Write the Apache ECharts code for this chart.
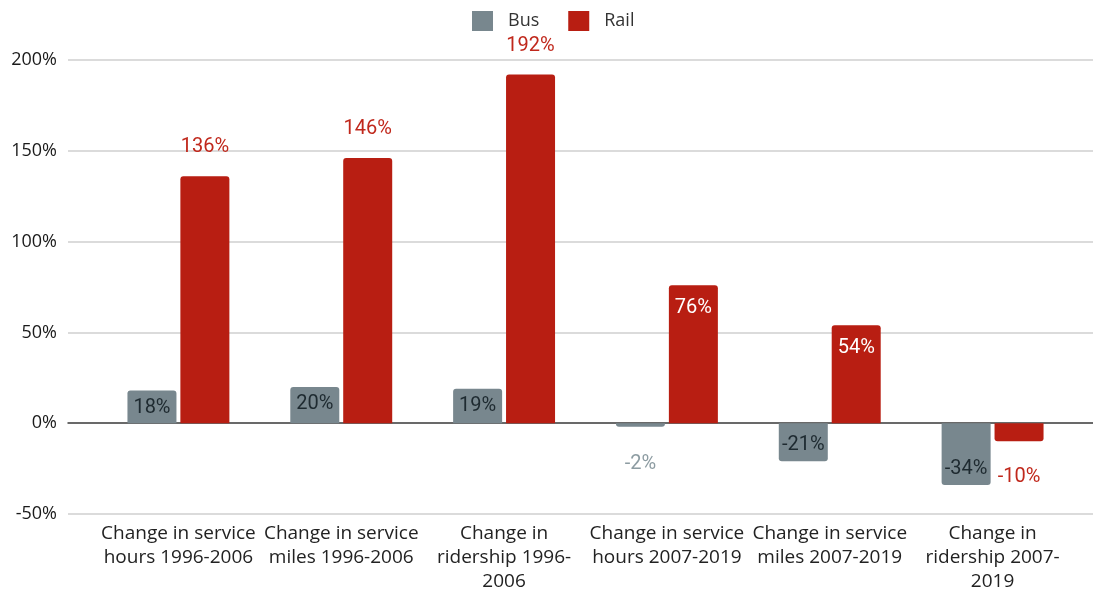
<!DOCTYPE html>
<html>
<head>
<meta charset="utf-8">
<script src="https://cdn.jsdelivr.net/npm/echarts@6/dist/echarts.min.js"></script>
<style>
html,body{margin:0;padding:0;background:#fff;overflow:hidden;}
#chart{width:1093px;height:592px;}
</style>
</head>
<body>
<div id="chart"></div>
<script>
const categories = [
  "Change in service\nhours 1996-2006",
  "Change in service\nmiles 1996-2006",
  "Change in\nridership 1996-\n2006",
  "Change in service\nhours 2007-2019",
  "Change in service\nmiles 2007-2019",
  "Change in\nridership 2007-\n2019"
];
const busValues = [18, 20, 19, -2, -21, -34];
const railValues = [136, 146, 192, 76, 54, -10];
const yTicks = { min: -50, max: 200, interval: 50 };

const BUS = '#78878e';
const RAIL = '#b81e12';

function busItem(v) {
  let label;
  if (Math.abs(v) < 8) {
    label = { position: 'bottom', distance: 27, color: '#8d9ca2' };
  } else if (v >= 0) {
    label = { position: 'insideTop', distance: 7, color: '#1e2a30' };
  } else {
    label = { position: 'insideBottom', distance: 6, color: '#1e2a30' };
  }
  return {
    value: v,
    label: label,
    itemStyle: { borderRadius: v >= 0 ? [3, 3, 0, 0] : [0, 0, 3, 3] }
  };
}
function railItem(v) {
  let label;
  if (v > 100) {
    label = { position: 'top', distance: 19, color: '#c0281c' };
  } else if (v >= 0) {
    label = { position: 'insideTop', distance: 13, color: '#ffffff' };
  } else {
    label = { position: 'bottom', distance: 26, color: '#c0281c' };
  }
  return {
    value: v,
    label: label,
    itemStyle: { borderRadius: v >= 0 ? [3, 3, 0, 0] : [0, 0, 3, 3] }
  };
}

const chart = echarts.init(document.getElementById('chart'));
chart.setOption({
  animation: false,
  backgroundColor: '#ffffff',
  legend: {
    top: 6,
    left: 467,
    icon: 'rect',
    itemWidth: 21,
    itemHeight: 20,
    itemGap: 29,
    textStyle: { fontFamily: 'Open Sans', fontSize: 18, color: '#333', padding: [0, 0, 0, 10] },
    data: ['Bus', 'Rail']
  },
  grid: [
    { left: 68, right: 0, top: 60, bottom: 78, outerBoundsMode: 'none', containLabel: false },
    { left: 97, right: 19, top: 60, bottom: 78, outerBoundsMode: 'none', containLabel: false }
  ],
  xAxis: [
    {
      gridIndex: 0, type: 'category', data: [''],
      axisLine: { show: true, onZero: true, lineStyle: { color: '#444', width: 1.5 } },
      axisTick: { show: false }, axisLabel: { show: false }
    },
    {
      gridIndex: 1, type: 'category', data: categories,
      axisLine: { show: false }, axisTick: { show: false },
      axisLabel: {
        interval: 0, margin: 8,
        fontFamily: 'Open Sans', fontSize: 19, color: '#222', lineHeight: 24
      }
    }
  ],
  yAxis: [
    {
      gridIndex: 0, type: 'value',
      min: yTicks.min, max: yTicks.max, interval: yTicks.interval,
      axisLine: { show: false }, axisTick: { show: false },
      axisLabel: { formatter: '{value}%', fontFamily: 'Open Sans', fontSize: 18, color: '#1a1a1a', margin: 11 },
      splitLine: { lineStyle: { color: '#cfcfcf', width: 1.5 } }
    },
    {
      gridIndex: 1, type: 'value',
      min: yTicks.min, max: yTicks.max, interval: yTicks.interval,
      show: false, splitLine: { show: false }
    }
  ],
  series: [
    {
      name: 'Bus', type: 'bar', xAxisIndex: 1, yAxisIndex: 1,
      barWidth: 49, barGap: '8%',
      itemStyle: { color: BUS },
      label: { show: true, formatter: '{c}%', fontFamily: 'Roboto', fontSize: 20 },
      data: busValues.map(busItem)
    },
    {
      name: 'Rail', type: 'bar', xAxisIndex: 1, yAxisIndex: 1,
      barWidth: 49,
      itemStyle: { color: RAIL },
      label: { show: true, formatter: '{c}%', fontFamily: 'Roboto', fontSize: 20 },
      data: railValues.map(railItem)
    }
  ]
});
</script>
</body>
</html>
